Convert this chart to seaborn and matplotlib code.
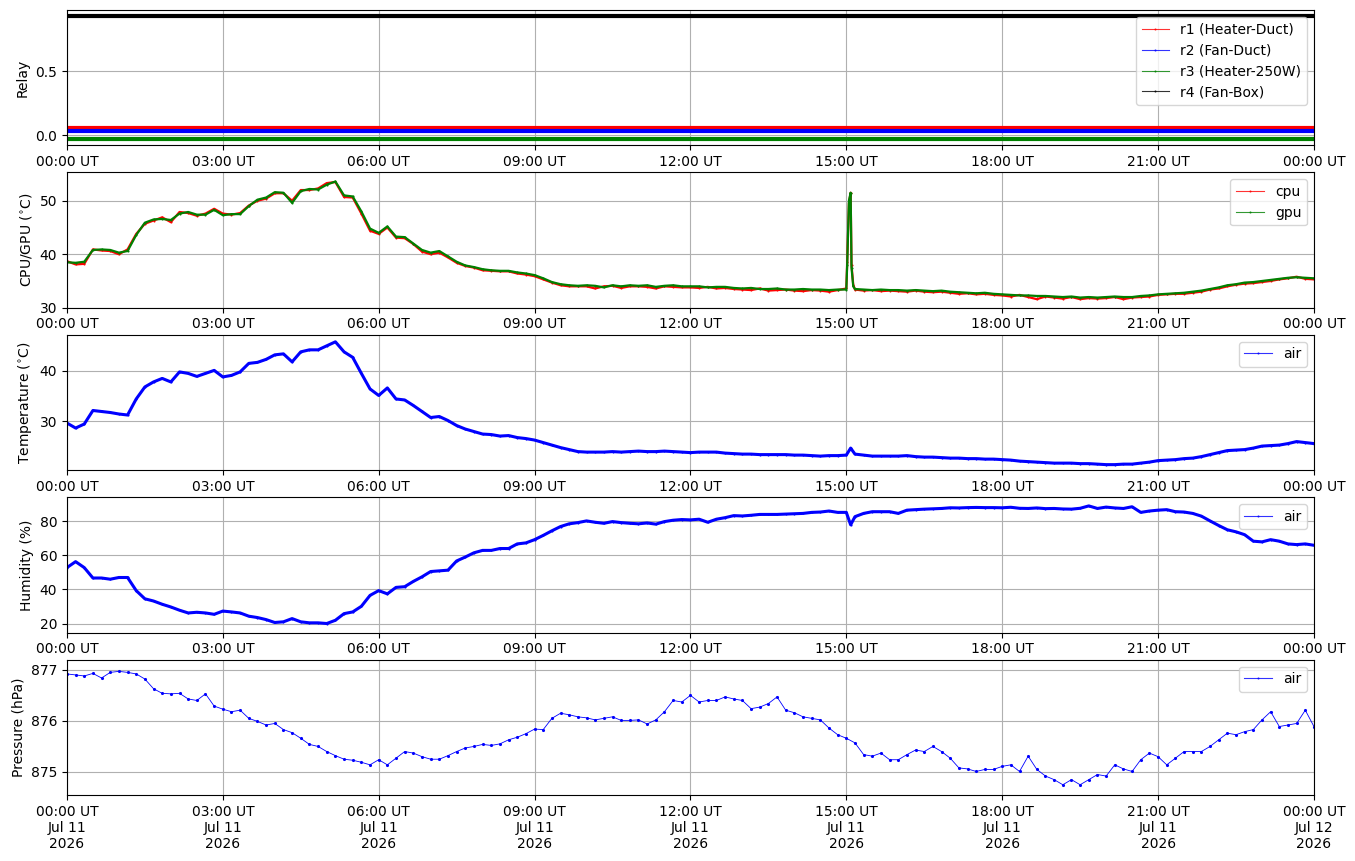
import pandas as pd
import numpy as np
import matplotlib
matplotlib.use("Agg")
import matplotlib.pyplot as plt
import matplotlib.dates as mdates
import matplotlib.ticker as mticker
import seaborn as sns

# ------------------------------------------------------------------------
# 1. Data (10-minute samples, Jul 11 2026 UT)
# ------------------------------------------------------------------------
day_start = pd.Timestamp("2026-07-11 00:00")
day_end = pd.Timestamp("2026-07-12 00:00")
grid_minutes = list(range(0, 1441, 10))

# relay states (0 = off, 1 = on); plotted with a small offset so they don't overlap
relay_names = ["r1 (Heater-Duct)", "r2 (Fan-Duct)", "r3 (Heater-250W)", "r4 (Fan-Box)"]
relay_states = [0, 0, 0, 1]
relay_offsets = [0.06, 0.03, -0.03, -0.07]
relay_colors = ["red", "blue", "green", "black"]

cpu = [
    38.7, 38.1, 38.2, 40.9, 40.7, 40.6,
    40.0, 40.9, 43.8, 45.7, 46.3, 46.9,
    46.0, 47.9, 47.7, 47.2, 47.6, 48.5,
    47.6, 47.4, 47.7, 49.1, 50.0, 50.4,
    51.4, 51.4, 50.0, 52.0, 52.0, 52.3,
    53.3, 53.5, 50.7, 50.6, 47.6, 44.4,
    43.8, 45.0, 43.1, 43.0, 41.9, 40.5,
    40.0, 40.3, 39.4, 38.4, 37.8, 37.5,
    37.0, 36.9, 36.8, 36.8, 36.4, 36.2,
    35.9, 35.3, 34.7, 34.2, 34.0, 34.0,
    34.0, 33.6, 34.0, 34.1, 33.7, 34.0,
    34.0, 33.9, 33.6, 34.0, 33.9, 33.8,
    33.8, 33.7, 33.9, 33.6, 33.7, 33.5,
    33.4, 33.3, 33.6, 33.2, 33.3, 33.4,
    33.2, 33.1, 33.3, 33.2, 33.0, 33.3,
    33.6, 33.4, 33.2, 33.3, 33.1, 33.2,
    33.1, 33.0, 33.2, 33.0, 32.9, 33.0,
    32.8, 32.6, 32.7, 32.5, 32.6, 32.4,
    32.3, 32.1, 32.4, 32.0, 31.6, 32.1,
    31.9, 31.7, 32.0, 31.6, 31.8, 31.7,
    31.8, 32.0, 31.6, 31.9, 32.0, 32.1,
    32.4, 32.5, 32.6, 32.6, 32.8, 33.0,
    33.4, 33.6, 34.0, 34.3, 34.5, 34.6,
    34.8, 35.0, 35.3, 35.5, 35.8, 35.4,
    35.3,
]
gpu = [
    38.5, 38.4, 38.6, 40.8, 40.9, 40.8,
    40.3, 40.6, 43.6, 45.9, 46.5, 46.6,
    46.4, 47.6, 47.9, 47.4, 47.4, 48.3,
    47.3, 47.5, 47.5, 49.0, 50.2, 50.6,
    51.6, 51.5, 49.6, 51.8, 52.2, 52.1,
    53.0, 53.6, 51.0, 50.8, 48.0, 44.8,
    44.0, 45.2, 43.3, 43.2, 42.0, 40.8,
    40.3, 40.6, 39.6, 38.6, 37.9, 37.6,
    37.2, 37.0, 36.9, 36.9, 36.6, 36.4,
    36.1, 35.5, 34.8, 34.4, 34.2, 34.1,
    34.2, 34.1, 33.8, 34.2, 34.0, 34.2,
    34.1, 34.2, 33.9, 34.1, 34.2, 34.0,
    34.0, 34.0, 33.8, 33.9, 33.9, 33.7,
    33.6, 33.7, 33.5, 33.5, 33.6, 33.4,
    33.4, 33.5, 33.4, 33.4, 33.3, 33.4,
    33.4, 33.5, 33.4, 33.3, 33.4, 33.3,
    33.3, 33.2, 33.3, 33.2, 33.1, 33.2,
    33.0, 32.9, 32.8, 32.7, 32.8, 32.6,
    32.5, 32.4, 32.3, 32.3, 32.2, 32.2,
    32.1, 32.0, 32.1, 31.9, 32.0, 31.9,
    32.0, 32.1, 32.0, 32.0, 32.2, 32.3,
    32.5, 32.6, 32.7, 32.8, 33.0, 33.2,
    33.5, 33.8, 34.2, 34.4, 34.7, 34.8,
    35.0, 35.2, 35.4, 35.6, 35.7, 35.6,
    35.5,
]
# short load spike just after 15:00
spike_minutes = [901, 903, 905, 906, 908]
spike_cpu = [38.5, 49.5, 51.5, 38.0, 34.3]
spike_gpu = [38.0, 50.0, 51.5, 37.5, 34.0]

air_temp = [
    29.6, 28.6, 29.4, 32.1, 31.9, 31.7,
    31.4, 31.2, 34.4, 36.8, 37.8, 38.5,
    37.8, 39.8, 39.5, 38.9, 39.5, 40.1,
    38.8, 39.1, 39.8, 41.5, 41.7, 42.3,
    43.2, 43.4, 41.8, 43.8, 44.2, 44.2,
    45.0, 45.8, 43.8, 42.7, 39.5, 36.4,
    35.1, 36.6, 34.4, 34.2, 33.1, 31.9,
    30.7, 30.9, 30.1, 29.1, 28.4, 27.9,
    27.4, 27.3, 27.0, 27.1, 26.7, 26.5,
    26.2, 25.7, 25.2, 24.7, 24.3, 23.9,
    23.8, 23.8, 23.8, 23.9, 23.8, 23.9,
    24.0, 23.9, 23.9, 24.0, 23.9, 23.8,
    23.7, 23.8, 23.8, 23.8, 23.6, 23.5,
    23.4, 23.4, 23.3, 23.3, 23.3, 23.3,
    23.2, 23.2, 23.1, 23.0, 23.1, 23.1,
    23.2, 23.4, 23.2, 23.0, 23.0, 23.0,
    23.0, 23.1, 22.9, 22.8, 22.8, 22.7,
    22.6, 22.6, 22.5, 22.5, 22.4, 22.4,
    22.3, 22.2, 22.0, 21.9, 21.8, 21.7,
    21.6, 21.6, 21.6, 21.5, 21.5, 21.4,
    21.3, 21.3, 21.4, 21.4, 21.6, 21.8,
    22.1, 22.2, 22.3, 22.5, 22.6, 22.9,
    23.3, 23.7, 24.1, 24.2, 24.3, 24.6,
    25.0, 25.1, 25.2, 25.5, 25.9, 25.7,
    25.5,
]
temp_spike_minutes = [905]
temp_spike = [24.6]

air_hum = [
    52.8, 56.3, 52.8, 46.7, 46.7, 46.0,
    47.0, 47.0, 39.3, 34.5, 33.2, 31.3,
    29.7, 27.8, 26.2, 26.6, 26.2, 25.4,
    27.3, 26.8, 26.2, 24.3, 23.5, 22.3,
    20.6, 21.0, 22.9, 21.0, 20.4, 20.4,
    20.0, 21.9, 25.8, 26.8, 30.1, 36.5,
    39.3, 37.4, 41.2, 41.6, 44.7, 47.4,
    50.5, 50.9, 51.3, 56.7, 59.0, 61.5,
    62.9, 62.9, 64.0, 64.0, 66.7, 67.3,
    69.2, 71.7, 74.4, 76.9, 78.5, 79.2,
    80.2, 79.4, 78.8, 79.8, 79.2, 78.8,
    78.5, 79.0, 78.3, 79.8, 80.6, 81.0,
    80.8, 81.2, 79.4, 81.2, 82.1, 83.3,
    83.1, 83.5, 84.0, 84.0, 84.0, 84.2,
    84.4, 84.6, 85.2, 85.4, 86.0, 85.2,
    85.2, 82.7, 84.6, 85.6, 85.6, 85.6,
    84.6, 86.5, 86.8, 87.1, 87.3, 87.5,
    87.9, 87.8, 88.0, 88.1, 88.0, 88.0,
    87.9, 88.2, 87.6, 87.5, 87.8, 87.4,
    87.5, 87.2, 87.1, 87.6, 89.0, 87.5,
    88.3, 87.8, 87.5, 88.5, 85.2, 86.0,
    86.5, 86.8, 85.6, 85.4, 84.6, 83.0,
    80.2, 77.5, 75.0, 73.8, 72.1, 68.3,
    67.9, 69.2, 68.3, 66.7, 66.3, 66.7,
    65.9,
]
hum_spike_minutes = [905]
hum_spike = [77.9]

air_pres = [
    876.92, 876.90, 876.88, 876.93, 876.84, 876.95,
    876.97, 876.95, 876.92, 876.82, 876.63, 876.54,
    876.53, 876.54, 876.43, 876.40, 876.53, 876.29,
    876.23, 876.18, 876.21, 876.05, 875.99, 875.92,
    875.95, 875.83, 875.77, 875.66, 875.54, 875.50,
    875.40, 875.32, 875.25, 875.23, 875.19, 875.14,
    875.24, 875.14, 875.27, 875.40, 875.37, 875.30,
    875.25, 875.25, 875.32, 875.40, 875.47, 875.50,
    875.54, 875.52, 875.55, 875.63, 875.68, 875.75,
    875.84, 875.83, 876.05, 876.15, 876.12, 876.08,
    876.06, 876.02, 876.05, 876.08, 876.01, 876.01,
    876.02, 875.94, 876.02, 876.18, 876.40, 876.37,
    876.50, 876.37, 876.40, 876.40, 876.47, 876.43,
    876.40, 876.24, 876.27, 876.34, 876.47, 876.21,
    876.16, 876.08, 876.05, 876.02, 875.86, 875.73,
    875.66, 875.57, 875.34, 875.31, 875.37, 875.24,
    875.24, 875.34, 875.43, 875.40, 875.50, 875.40,
    875.27, 875.08, 875.06, 875.01, 875.05, 875.05,
    875.11, 875.14, 875.01, 875.31, 875.05, 874.92,
    874.85, 874.75, 874.85, 874.75, 874.85, 874.95,
    874.92, 875.14, 875.06, 875.01, 875.24, 875.37,
    875.30, 875.14, 875.27, 875.40, 875.40, 875.40,
    875.50, 875.63, 875.76, 875.73, 875.79, 875.83,
    876.02, 876.18, 875.89, 875.92, 875.95, 876.21,
    875.89,
]


def make_frame(minutes, values, extra_minutes=(), extra_values=()):
    df = pd.DataFrame({"minute": list(minutes) + list(extra_minutes),
                       "value": list(values) + list(extra_values)})
    df = df.sort_values("minute").reset_index(drop=True)
    df["time"] = day_start + pd.to_timedelta(df["minute"], unit="min")
    return df


cpu_df = make_frame(grid_minutes, cpu, spike_minutes, spike_cpu)
gpu_df = make_frame(grid_minutes, gpu, spike_minutes, spike_gpu)
temp_df = make_frame(grid_minutes, air_temp, temp_spike_minutes, temp_spike)
hum_df = make_frame(grid_minutes, air_hum, hum_spike_minutes, hum_spike)
pres_df = make_frame(grid_minutes, air_pres)

# ------------------------------------------------------------------------
# 2. Figure
# ------------------------------------------------------------------------
fig, axes = plt.subplots(5, 1, figsize=(13.55, 8.61), dpi=100)
fig.subplots_adjust(left=0.0494, right=0.9697, top=0.9884, bottom=0.0767, hspace=0.2)

line_kw = dict(marker=".", markersize=3, markeredgewidth=0, estimator=None)

# (A) Relays
ax = axes[0]
for name, state, off, col in zip(relay_names, relay_states, relay_offsets, relay_colors):
    rdf = make_frame(grid_minutes, [state + off] * len(grid_minutes))
    sns.lineplot(data=rdf, x="time", y="value", ax=ax, color=col, linewidth=3.0,
                 label=name, **line_kw)
ax.set_ylim(-0.078, 0.978)
ax.yaxis.set_major_locator(mticker.MultipleLocator(0.5))
ax.set_ylabel("Relay")

# (B) CPU / GPU
ax = axes[1]
sns.lineplot(data=cpu_df, x="time", y="value", ax=ax, color="red", linewidth=1.6,
             label="cpu", **line_kw)
sns.lineplot(data=gpu_df, x="time", y="value", ax=ax, color="green", linewidth=1.6,
             label="gpu", **line_kw)
ax.set_ylim(30, 55.3)
ax.yaxis.set_major_locator(mticker.MultipleLocator(10))
ax.set_ylabel(r"CPU/GPU ($^{\circ}$C)")

# (C) Air temperature
ax = axes[2]
sns.lineplot(data=temp_df, x="time", y="value", ax=ax, color="blue", linewidth=2.2,
             label="air", **line_kw)
ax.set_ylim(20.2, 47.2)
ax.yaxis.set_major_locator(mticker.MultipleLocator(10))
ax.set_ylabel(r"Temperature ($^{\circ}$C)")

# (D) Humidity
ax = axes[3]
sns.lineplot(data=hum_df, x="time", y="value", ax=ax, color="blue", linewidth=2.2,
             label="air", **line_kw)
ax.set_ylim(14.7, 94.1)
ax.yaxis.set_major_locator(mticker.MultipleLocator(20))
ax.set_ylabel("Humidity (%)")

# (E) Pressure
ax = axes[4]
sns.lineplot(data=pres_df, x="time", y="value", ax=ax, color="blue", linewidth=0.6,
             label="air", marker=".", markersize=4.5, markeredgewidth=0, estimator=None)
ax.set_ylim(874.55, 877.2)
ax.yaxis.set_major_locator(mticker.MultipleLocator(1))
ax.yaxis.set_major_formatter(mticker.FormatStrFormatter("%d"))
ax.set_ylabel("Pressure (hPa)")

# common x axis styling
for i, ax in enumerate(axes):
    ax.set_xlim(day_start, day_end)
    ax.xaxis.set_major_locator(mdates.HourLocator(byhour=range(0, 24, 3)))
    if i == len(axes) - 1:
        ax.xaxis.set_major_formatter(mdates.DateFormatter("%H:%M UT\n%b %d\n%Y"))
        for lbl in ax.get_xticklabels():
            lbl.set_horizontalalignment("center")
    else:
        ax.xaxis.set_major_formatter(mdates.DateFormatter("%H:%M UT"))
    ax.set_xlabel("")
    ax.grid(True)
    leg = ax.legend(loc="upper right")
    for h in leg.get_lines():
        h.set_linewidth(0.8)
        h.set_alpha(0.8)
        h.set_markersize(3)

fig.savefig("out.png", dpi=100)
plt.close(fig)
print("Saved plot: out.png")
